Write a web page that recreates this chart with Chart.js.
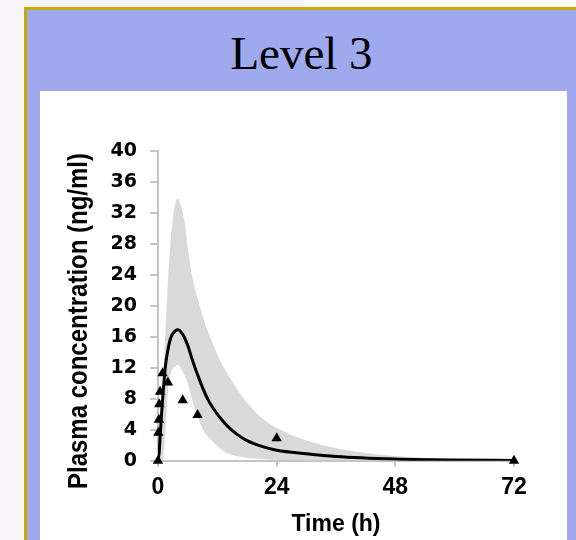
<!DOCTYPE html>
<html>
<head>
<meta charset="utf-8">
<script src="https://cdn.jsdelivr.net/npm/chart.js@4"></script>
<style>
    body { margin: 0; width: 576px; height: 540px; overflow: hidden; background: #f7f5f9; position: relative; }
    #topStrip { position: absolute; left: 305px; top: 0; width: 271px; height: 7px; background: #ffffff; }
    #panel { position: absolute; left: 24px; top: 7px; width: 600px; height: 600px; background: #9ea9ee;
             border-top: 3px solid #c8aa04; border-left: 3px solid #c8aa04; }
    #title { position: absolute; left: 27px; top: 25px; width: 549px; text-align: center;
             font-family: "Liberation Serif", "Times New Roman", serif; font-size: 47px; line-height: 56px; color: #000; }
    #card { position: absolute; left: 40px; top: 91px; width: 527px; height: 449px; background: #ffffff; }
    #pkChart { position: absolute; left: 0; top: 0; }
</style>
</head>
<body>
<div id="topStrip"></div>
<div id="panel"></div>
<div id="title">Level 3</div>
<div id="card"><canvas id="pkChart" width="527" height="449"></canvas></div>

<script>
// observed concentrations (triangles)
const obsTime = [0, 0.08, 0.17, 0.25, 0.42, 0.92, 2, 5, 8, 24, 72];
const obsConc = [0, 3.6, 5.3, 7.3, 8.9, 11.3, 10.1, 7.8, 5.9, 2.9, 0];

// mean prediction (black line)
const meanTime = [0, 0.25, 0.5, 0.75, 1, 1.5, 2, 2.5, 3, 4, 5, 6, 7, 8, 10, 12, 14, 16, 18, 21, 24, 30, 36, 48, 60, 72];
const meanConc = [0, 1.2, 3.9, 6.3, 8.5, 12.2, 14.3, 15.7, 16.4, 16.9, 16.3, 14.9, 12.9, 11.1, 8.0, 6.0, 4.5, 3.4, 2.6, 1.85, 1.35, 0.9, 0.55, 0.22, 0.09, 0.04];

// prediction interval (grey band)
const bandTime = [0, 0.5, 1, 1.5, 2, 2.5, 3, 3.5, 4, 4.5, 5, 5.5, 6, 7, 8, 9.5, 11, 12.5, 14, 17.5, 21.5, 26, 30, 36, 42, 48, 54, 60, 72];
const bandUpper = [0, 3.5, 9.8, 16.5, 23, 28, 31.3, 33.2, 33.9, 33.2, 32, 30.4, 27.5, 23.5, 21, 17.7, 15.3, 13, 11.3, 7.9, 5.25, 3.6, 2.6, 1.6, 1.0, 0.6, 0.35, 0.2, 0.1];
const bandLower = [0, 0, 0.3, 4, 8.8, 11, 11.9, 12.2, 12.35, 12.1, 11.5, 10.8, 10.0, 7.6, 5.6, 3.6, 2.5, 1.6, 1.0, 0.4, 0.2, 0.1, 0.06, 0.03, 0.02, 0.01, 0, 0, 0];

const xTicks = [0, 24, 48, 72];
const yTicks = [0, 4, 8, 12, 16, 20, 24, 28, 32, 36, 40];

const toPoints = (xs, ys) => xs.map((x, i) => ({ x: x, y: ys[i] }));
const axisGrey = '#c4c4c4';

// y axis title drawn a bit lower than the plot centre, like the original
const yTitlePlugin = {
    id: 'yTitle',
    afterDraw(chart) {
        const ctx = chart.ctx;
        ctx.save();
        ctx.translate(39, 230);
        ctx.rotate(-Math.PI / 2);
        ctx.scale(1, 1.15);
        ctx.font = 'bold 24px "Liberation Sans", Arial, sans-serif';
        ctx.fillStyle = '#000';
        ctx.textAlign = 'center';
        ctx.textBaseline = 'middle';
        ctx.fillText('Plasma concentration (ng/ml)', 0, 0);
        ctx.restore();
    }
};

new Chart(document.getElementById('pkChart'), {
    type: 'scatter',
    data: {
        datasets: [{
            label: 'Observed',
            data: toPoints(obsTime, obsConc),
            pointStyle: 'triangle',
            pointRadius: 6,
            backgroundColor: '#000',
            borderColor: '#000',
            borderWidth: 0,
            showLine: false,
            clip: false,
            order: 0
        }, {
            label: 'Mean',
            data: toPoints(meanTime, meanConc),
            showLine: true,
            borderColor: '#000',
            borderWidth: 3,
            pointRadius: 0,
            cubicInterpolationMode: 'monotone',
            order: 1
        }, {
            label: 'Upper',
            data: toPoints(bandTime, bandUpper),
            showLine: true,
            borderColor: 'transparent',
            borderWidth: 0,
            pointRadius: 0,
            backgroundColor: '#d9d9d9',
            fill: '+1',
            cubicInterpolationMode: 'monotone',
            order: 2
        }, {
            label: 'Lower',
            data: toPoints(bandTime, bandLower),
            showLine: true,
            borderColor: 'transparent',
            borderWidth: 0,
            pointRadius: 0,
            fill: false,
            cubicInterpolationMode: 'monotone',
            order: 3
        }]
    },
    options: {
        responsive: false,
        animation: false,
        devicePixelRatio: 1,
        layout: { padding: { top: 59.7, right: 53, left: 0, bottom: 0 } },
        plugins: {
            legend: { display: false },
            tooltip: { enabled: false }
        },
        scales: {
            x: {
                type: 'linear',
                min: 0,
                max: 72,
                afterFit: scale => { scale.height = 79.3; },
                afterBuildTicks: scale => { scale.ticks = xTicks.map(v => ({ value: v })); },
                ticks: {
                    color: '#000',
                    padding: 7,
                    maxRotation: 0,
                    font: { family: '"Liberation Sans", Arial, sans-serif', weight: 'bold', size: 23 }
                },
                grid: { drawOnChartArea: false, drawTicks: true, tickLength: 6, color: axisGrey, lineWidth: 2 },
                border: { display: true, color: axisGrey, width: 2 },
                title: {
                    display: true,
                    text: 'Time (h)',
                    color: '#000',
                    padding: { top: 0, bottom: 2 },
                    font: { family: '"Liberation Sans", Arial, sans-serif', weight: 'bold', size: 23 }
                }
            },
            y: {
                min: 0,
                max: 40,
                afterFit: scale => { scale.width = 118; },
                afterBuildTicks: scale => { scale.ticks = yTicks.map(v => ({ value: v })); },
                ticks: {
                    color: '#000',
                    padding: 13,
                    font: { family: '"DejaVu Sans", sans-serif', weight: 'bold', size: 19 }
                },
                grid: { drawOnChartArea: false, drawTicks: true, tickLength: 8, color: axisGrey, lineWidth: 2 },
                border: { display: true, color: axisGrey, width: 2 }
            }
        }
    },
    plugins: [yTitlePlugin]
});
</script>
</body>
</html>
